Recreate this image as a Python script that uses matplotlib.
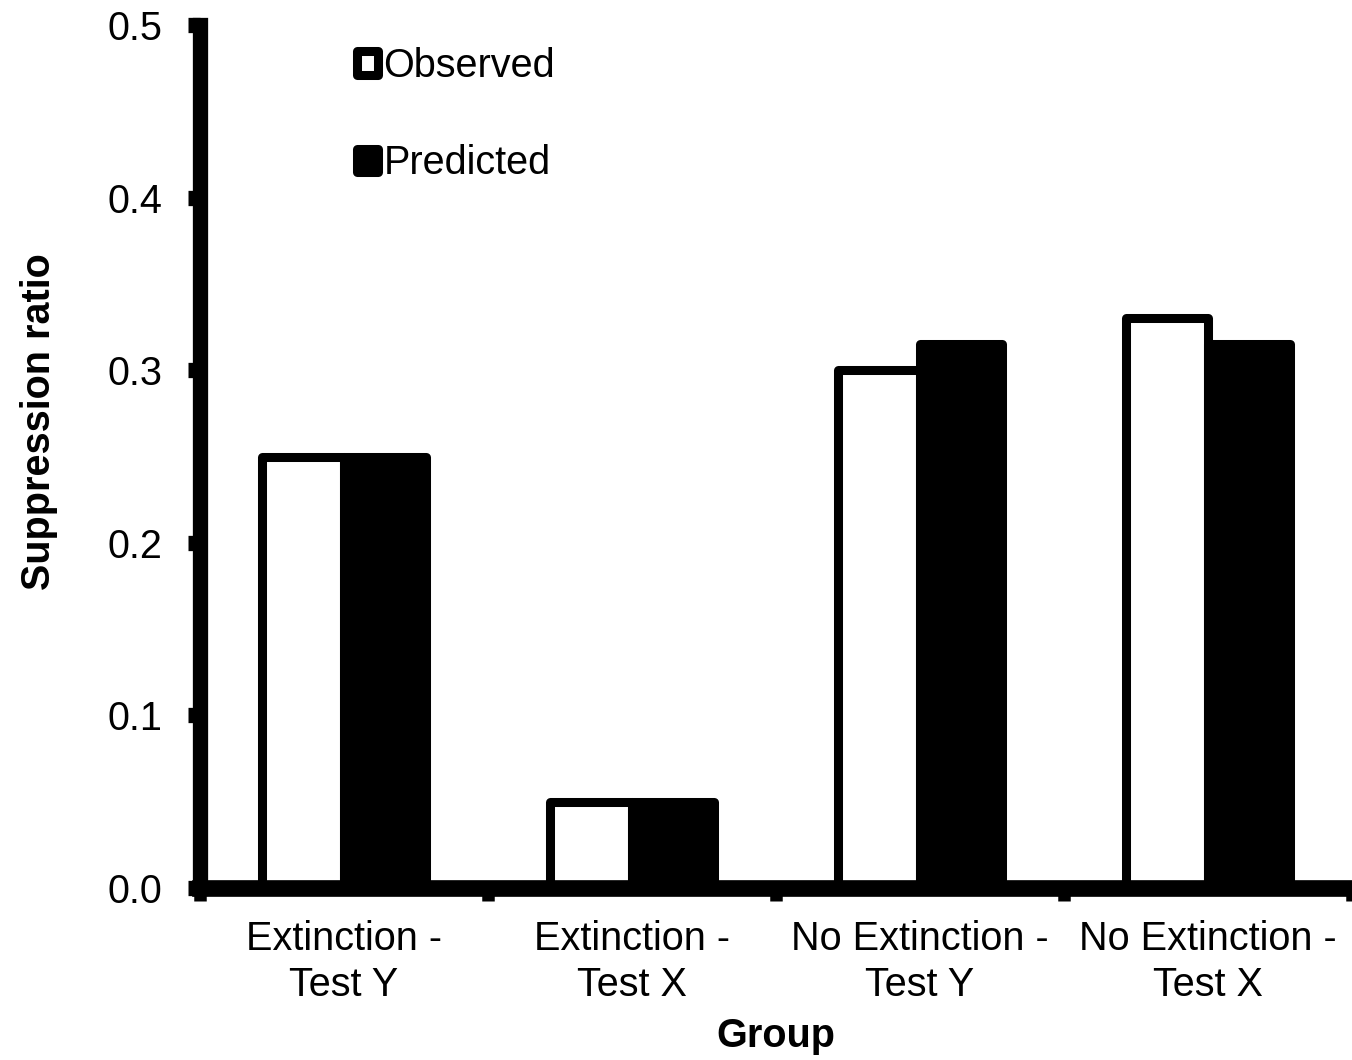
import matplotlib
matplotlib.use("Agg")
import matplotlib.pyplot as plt
import numpy as np

plt.rcParams["font.family"] = ["Liberation Sans", "DejaVu Sans"]

groups = ["Extinction -\nTest Y", "Extinction -\nTest X",
          "No Extinction -\nTest Y", "No Extinction -\nTest X"]
observed = [0.25, 0.05, 0.30, 0.33]
predicted = [0.25, 0.05, 0.315, 0.315]
y_ticks = [0.0, 0.1, 0.2, 0.3, 0.4, 0.5]

FS = 28.5
BAR_W = 0.285
EDGE = 6.5

fig = plt.figure(figsize=(13.52, 10.60), dpi=100)
ax = fig.add_axes([200 / 1352, 172 / 1060, 1152 / 1352, 863 / 1060])

x = np.arange(len(groups))
b_obs = ax.bar(x - BAR_W / 2, observed, BAR_W, color="white", edgecolor="black",
               linewidth=EDGE, label="Observed")
b_pred = ax.bar(x + BAR_W / 2, predicted, BAR_W, color="black", edgecolor="black",
                linewidth=EDGE, label="Predicted")
for bar in list(b_obs) + list(b_pred):
    bar.set_joinstyle("round")

ax.set_xlim(-0.5, 3.5)
ax.set_ylim(0, 0.5)

# spines: only left and bottom, very thick
for side in ["top", "right"]:
    ax.spines[side].set_visible(False)
ax.spines["left"].set_linewidth(11)
ax.spines["bottom"].set_linewidth(12)
ax.spines["bottom"].set_capstyle("projecting")

ax.set_yticks(y_ticks)
ax.set_yticklabels(["%.1f" % v for v in y_ticks])
ax.tick_params(axis="y", direction="out", length=9, width=11, pad=18,
               labelsize=FS)

ax.set_xticks(x)
ax.set_xticklabels(groups, linespacing=1.27)
ax.tick_params(axis="x", which="major", length=0, pad=23, labelsize=FS)
ax.set_xticks(np.arange(-0.5, 4, 1), minor=True)
ax.tick_params(axis="x", which="minor", direction="out", length=9, width=9)

ax.set_xlabel("Group", fontsize=FS, fontweight="bold", labelpad=9)
ax.set_ylabel("Suppression ratio", fontsize=FS, fontweight="bold")
ax.yaxis.set_label_coords(-0.123, 0.540)

leg = ax.legend(loc="upper left", bbox_to_anchor=(357 / 1352, 1 - 47 / 1060),
                bbox_transform=fig.transFigure, frameon=False, fontsize=FS,
                handlelength=0.52, handleheight=0.52, handletextpad=0.15,
                labelspacing=1.5, borderpad=0, borderaxespad=0)
for h in leg.legend_handles:
    h.set_joinstyle("round")

fig.savefig("out.png", dpi=100)
